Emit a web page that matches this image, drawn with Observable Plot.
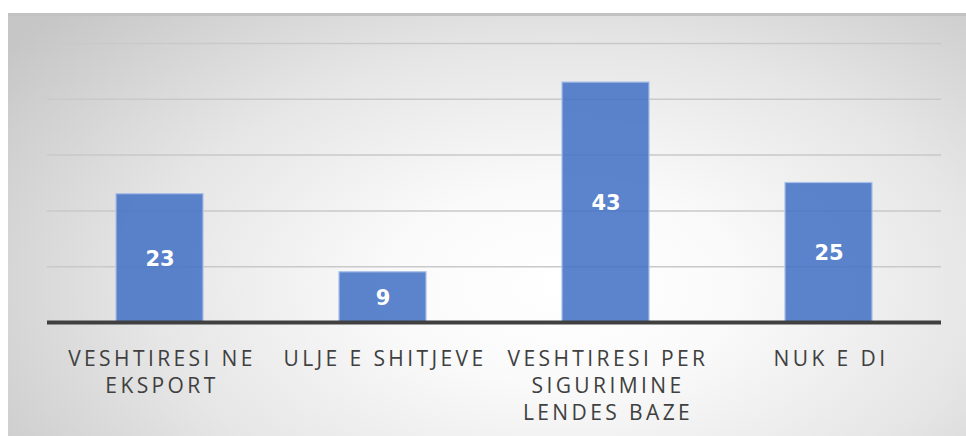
<!DOCTYPE html>
<html>
<head>
<meta charset="utf-8">
<script src="https://cdn.jsdelivr.net/npm/d3@7"></script>
<script src="https://cdn.jsdelivr.net/npm/@observablehq/plot@0.6"></script>
<style>
  html, body { margin: 0; padding: 0; background: #ffffff; width: 966px; height: 436px; overflow: hidden; }
  #box {
    position: absolute; left: 8px; top: 13px; width: 958px; height: 423px;
    background: radial-gradient(ellipse 72% 95% at 58% 64%, #ffffff 0%, #fafafa 25%, #e6e6e6 60%, #c6c6c6 100%);
    border-top: 3px solid #c2c2c2; box-sizing: border-box; overflow: hidden;
  }
  #box svg { position: absolute; left: 0; top: -3px; }
  g[aria-label="x-axis tick label"] text { letter-spacing: 3.4px; }
</style>
</head>
<body>
<div id="box"></div>
<script>
const categories = ["VESHTIRESI NE\nEKSPORT", "ULJE E SHITJEVE", "VESHTIRESI PER\nSIGURIMINE\nLENDES BAZE", "NUK E DI"];
const values = [23, 9, 43, 25];
const gridTicks = [10, 20, 30, 40, 50];

const data = categories.map((c, i) => ({category: c, value: values[i]}));

const chart = Plot.plot({
  width: 958,
  height: 423,
  marginLeft: 39,
  marginRight: 25,
  marginTop: 30,
  marginBottom: 114,
  style: {background: "transparent", overflow: "visible"},
  x: {domain: categories, paddingInner: 0.61, paddingOuter: 0.305, label: null},
  y: {domain: [0, 50], label: null, axis: null},
  marks: [
    Plot.gridY(gridTicks, {stroke: "#c9c9c9", strokeOpacity: 1, strokeWidth: 1.5}),
    Plot.barY(data, {x: "category", y: "value", fill: "#4472c4", fillOpacity: 0.87, stroke: "#a9bfe8", strokeWidth: 1.2}),
    Plot.text(data, {x: "category", y: d => d.value / 2, text: d => String(d.value), fill: "white",
      fontWeight: "bold", fontSize: 21, fontFamily: "DejaVu Sans", dy: 1}),
    Plot.ruleY([0], {stroke: "#404040", strokeWidth: 4}),
    Plot.axisX({tickSize: 0, tickPadding: 24, fontSize: 21, fontFamily: "Open Sans", fill: "#404040",
      lineHeight: 1.3, lineAnchor: "top", dx: 2}),
  ]
});
document.getElementById("box").appendChild(chart);
</script>
</body>
</html>
